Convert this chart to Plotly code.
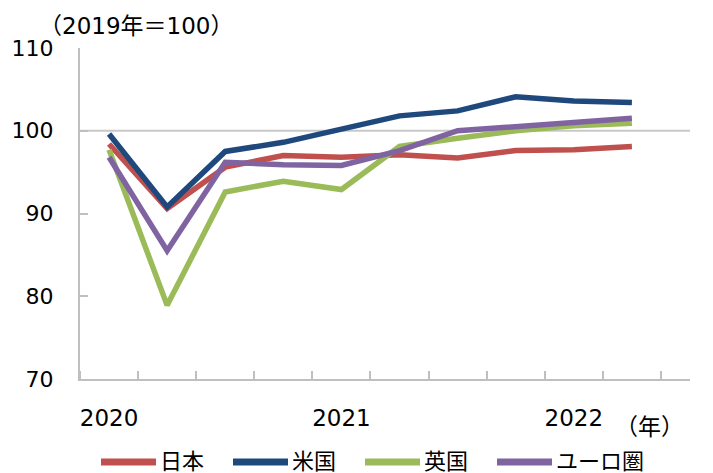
import plotly.graph_objects as go

quarters = ["2020Q1", "2020Q2", "2020Q3", "2020Q4", "2021Q1", "2021Q2",
            "2021Q3", "2021Q4", "2022Q1", "2022Q2"]
japan = [98.4, 90.6, 95.6, 97.0, 96.8, 97.1, 96.7, 97.6, 97.7, 98.1]
usa = [99.6, 90.8, 97.5, 98.6, 100.2, 101.8, 102.4, 104.1, 103.6, 103.4]
uk = [97.7, 78.9, 92.6, 93.9, 92.9, 98.1, 99.1, 100.0, 100.6, 100.9]
euro = [96.8, 85.5, 96.2, 95.9, 95.8, 97.6, 100.0, 100.5, 101.0, 101.5]

series_names = ["日本", "米国", "英国", "ユーロ圏"]
colors = ["#C0504D", "#1F497D", "#9BBB59", "#8064A2"]
year_labels = ["2020", "2021", "2022"]
year_positions = [0, 4, 8]
y_ticks = [70, 80, 90, 100, 110]

FONT = "DejaVu Sans, Noto Sans CJK JP"
OFF = 8  # default page body margin
W, H = 713 - OFF, 473 - OFF
ML, MR, MT, MB = 72, 23, 40, 94
PW, PH = W - ML - MR, H - MT - MB


def vx(px):
    """window pixel x -> paper x"""
    return (px - OFF - ML) / PW


def vy(py):
    """window pixel y -> paper y"""
    return (H - MB - (py - OFF)) / PH


x = list(range(len(quarters)))

fig = go.Figure()
for name, vals, col in zip(series_names, [japan, usa, uk, euro], colors):
    fig.add_trace(go.Scatter(x=x, y=vals, mode="lines", name=name,
                             line=dict(color=col, width=5.5),
                             customdata=quarters, showlegend=False,
                             hovertemplate="%{customdata}: %{y}<extra>" + name + "</extra>"))

fig.add_shape(type="line", xref="paper", x0=0, x1=1, yref="y", y0=100, y1=100,
              line=dict(color="#C8C8C8", width=2), layer="below")

# manual legend (line sample + label)
legend_line_starts = [101, 233, 365, 497]
legend_y = 461
for name, col, lx in zip(series_names, colors, legend_line_starts):
    fig.add_shape(type="line", xref="paper", yref="paper",
                  x0=vx(lx), x1=vx(lx + 55),
                  y0=vy(legend_y + 1), y1=vy(legend_y + 1),
                  line=dict(color=col, width=7))
    fig.add_annotation(text=name, xref="paper", yref="paper",
                       x=vx(lx + 57), y=vy(legend_y),
                       xanchor="left", yanchor="middle", showarrow=False,
                       font=dict(family=FONT, size=22, color="#000000"))

fig.update_layout(
    width=W, height=H, autosize=False,
    margin=dict(l=ML, r=MR, t=MT, b=MB),
    paper_bgcolor="white", plot_bgcolor="white",
    font=dict(family=FONT, size=22, color="#000000"),
    showlegend=False,
    xaxis=dict(range=[-0.5, 10.0], showgrid=False, zeroline=False,
               showline=True, linecolor="#BFBFBF", linewidth=2,
               tickvals=year_positions, ticktext=year_labels, ticks="",
               ticklabelstandoff=17, automargin=False,
               minor=dict(tick0=-0.5, dtick=1, ticks="inside", ticklen=8,
                          tickcolor="#BFBFBF", tickwidth=2, showgrid=False),
               tickfont=dict(size=23)),
    yaxis=dict(range=[70, 110], tickvals=y_ticks, showgrid=False, zeroline=False,
               showline=True, linecolor="#BFBFBF", linewidth=2,
               ticks="inside", ticklen=8, tickcolor="#BFBFBF", tickwidth=2,
               ticklabelstandoff=20, automargin=False, tickfont=dict(size=22)),
)

fig.add_annotation(text="（2019年＝100）", xref="paper", yref="paper",
                   x=vx(37), y=vy(26),
                   xanchor="left", yanchor="middle",
                   showarrow=False, font=dict(family=FONT, size=23))
fig.add_annotation(text="（年）", xref="paper", yref="paper",
                   x=vx(686), y=vy(427),
                   xanchor="right", yanchor="middle",
                   showarrow=False, font=dict(family=FONT, size=23))

fig.write_html("out.html")
